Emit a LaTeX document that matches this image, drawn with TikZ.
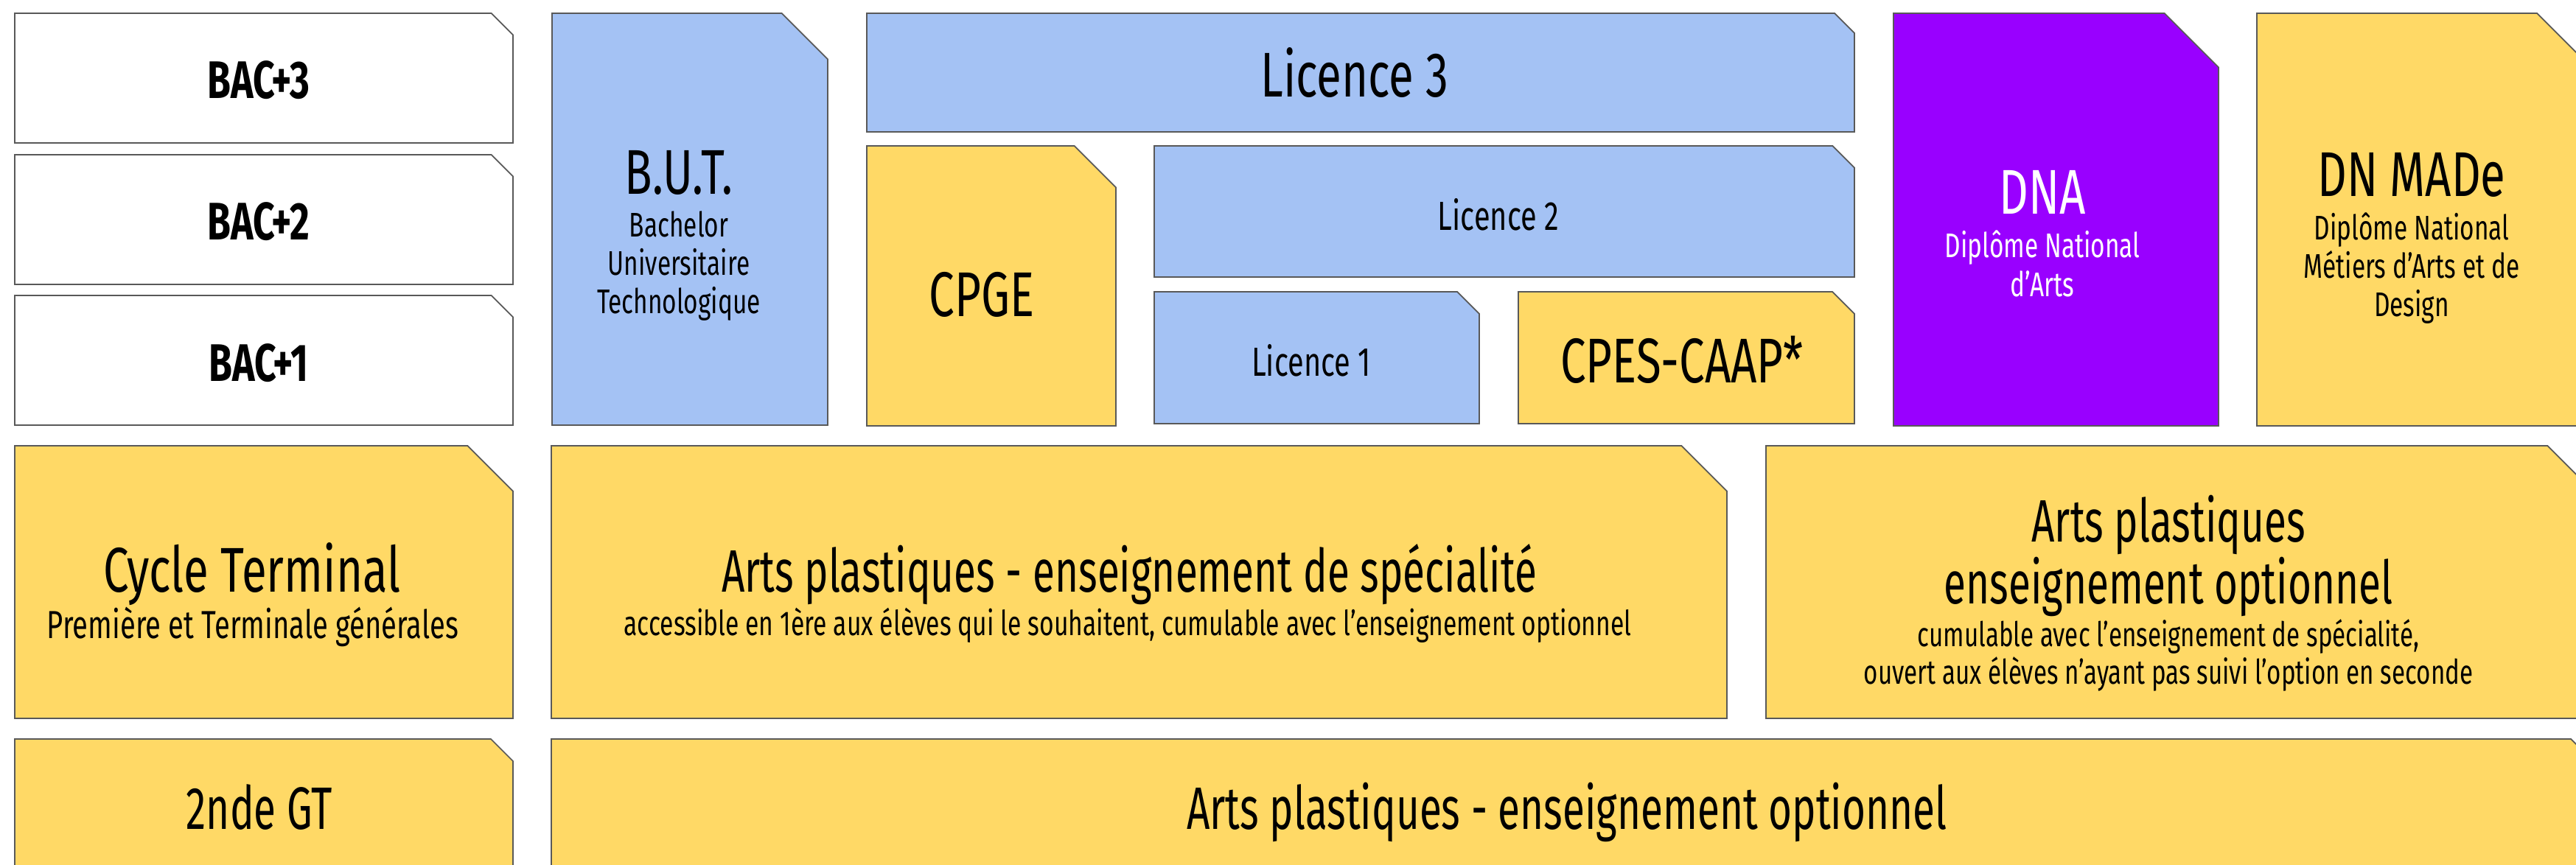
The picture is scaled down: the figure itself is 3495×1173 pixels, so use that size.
\documentclass[tikz,border=0pt]{standalone}
\usepackage{fontspec}
\setmainfont{Fira Sans}[FakeStretch=0.72]
\newfontfamily\narrowfont{Fira Sans}[FakeStretch=0.675]
\usepackage{tikz}
\usetikzlibrary{calc}
\definecolor{slateblue}{HTML}{A4C2F4}
\definecolor{sand}{HTML}{FFD966}
\definecolor{violet}{HTML}{9900FF}
\definecolor{edge}{HTML}{595959}
\tikzset{snip/.style = {draw=edge, line width=0.5pt}}
\tikzset{lbl/.style = {anchor=base, inner sep=0pt}}
\tikzset{huge/.style = {lbl, font=\fontsize{24.4}{29}\selectfont}}
\tikzset{large/.style = {lbl, font=\narrowfont\fontsize{23.1}{28}\selectfont}}
\tikzset{middle/.style = {lbl, font=\fontsize{15.7}{19}\selectfont}}
\tikzset{level/.style = {lbl, font=\bfseries\fontsize{20.4}{24}\selectfont}}
\tikzset{sub/.style = {lbl, font=\fontsize{13.2}{16}\selectfont}}
\newcommand{\snipbox}[5]{
   \pgfmathsetmacro{\snipcut}{min(#3-#1,#4-#2)/6}
   \path[snip, fill=#5] (#1,#2) -- ({#3-\snipcut},#2) -- (#3,{#2+\snipcut}) -- (#3,#4) -- (#1,#4) -- cycle;
}

\begin{document}
\begin{tikzpicture}[x=0.01cm, y=-0.01cm]
		\clip (0,0) rectangle (3495,1173);
		\fill[white] (0,0) rectangle (3495,1173);

		% Levels
		\snipbox{20}{18}{696}{194}{white}
		\snipbox{20}{210}{696}{386}{white}
		\snipbox{20}{401}{696}{577}{white}
		\node[level] (bac3) at (351,134) {BAC+3};
		\node[level] (bac2) at (351,325) {BAC+2};
		\node[level] (bac1) at (351,517) {BAC+1};

		% University
		\snipbox{749}{18}{1123}{577}{slateblue}
		\node[huge] (but) at (921,263) {B.U.T.};
		\node[sub] (butA) at (921,321) {Bachelor};
		\node[sub] (butB) at (921,373) {Universitaire};
		\node[sub] (butC) at (921,425) {Technologique};
		%
		\snipbox{1176}{18}{2516}{179}{slateblue}
		\node[huge] (lic3) at (1838,132) {Licence 3};
		\snipbox{1566}{198}{2516}{376}{slateblue}
		\node[middle] (lic2) at (2033,312) {Licence 2};
		\snipbox{1566}{396}{2007}{575}{slateblue}
		\node[middle] (lic1) at (1779,510) {Licence 1};

		% Prepas
		\snipbox{1176}{198}{1514}{578}{sand}
		\node[huge] (cpge) at (1332,429) {CPGE};
		\snipbox{2060}{396}{2516}{575}{sand}
		\node[huge] (cpes) at (2282,519) {CPES-CAAP*};

		% Art schools
		\snipbox{2569}{18}{3010}{578}{violet}
		\node[huge, white] (dna) at (2771,291) {DNA};
		\node[sub, white] (dnaA) at (2771,349) {Diplôme National};
		\node[sub, white] (dnaB) at (2771,402) {d’Arts};
		%
		\snipbox{3062}{18}{3518}{578}{sand}
		\node[huge] (made) at (3272,266) {DN MADe};
		\node[sub] (madeA) at (3272,325) {Diplôme National};
		\node[sub] (madeB) at (3272,377) {Métiers d’Arts et de};
		\node[sub] (madeC) at (3272,429) {Design};

		% Lycee
		\snipbox{20}{605}{696}{975}{sand}
		\node[huge] (cycle) at (342,803) {Cycle Terminal};
		\node[middle, font=\fontsize{15.1}{18}\selectfont] (cycleA) at (343,866) {Première et Terminale générales};
		%
		\snipbox{748}{605}{2343}{975}{sand}
		\node[large] (spe) at (1532,803) {Arts plastiques - enseignement de spécialité};
		\node[sub, font=\fontsize{13.3}{16}\selectfont] (speA) at (1530,862) {accessible en 1ère aux élèves qui le souhaitent, cumulable avec l’enseignement optionnel};
		%
		\snipbox{2396}{605}{3518}{975}{sand}
		\node[large] (optA) at (2942,735) {Arts plastiques};
		\node[large] (optB) at (2942,819) {enseignement optionnel};
		\node[sub, font=\fontsize{13.1}{15}\selectfont] (optC) at (2942,877) {cumulable avec l’enseignement de spécialité,};
		\node[sub, font=\fontsize{13.1}{15}\selectfont] (optD) at (2942,928) {ouvert aux élèves n’ayant pas suivi l’option en seconde};
		%
		\snipbox{20}{1003}{696}{1183}{sand}
		\node[large] (snd) at (352,1125) {2nde GT};
		\snipbox{748}{1003}{3518}{1183}{sand}
		\node[large] (sndopt) at (2126,1125) {Arts plastiques - enseignement optionnel};
	\end{tikzpicture}
\end{document}
